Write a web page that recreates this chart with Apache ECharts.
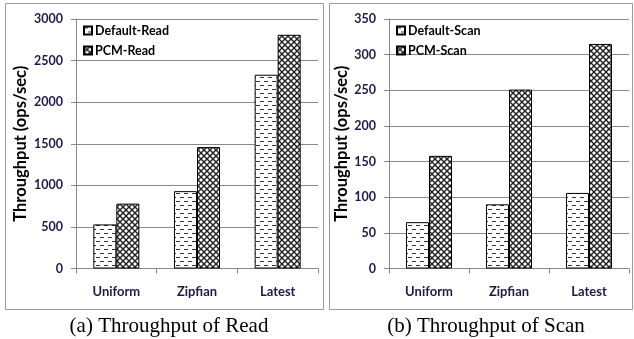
<!DOCTYPE html>
<html><head><meta charset="utf-8">
<script src="https://cdn.jsdelivr.net/npm/echarts@6/dist/echarts.min.js"></script>
<style>html,body{margin:0;padding:0;background:#fff}#c{width:634px;height:339px}</style>
</head><body><div id="c"></div>
<script>
const categories = ['Uniform', 'Zipfian', 'Latest'];
const defaultRead = [530, 930, 2330];
const pcmRead = [780, 1460, 2810];
const defaultScan = [65, 90, 106];
const pcmScan = [158, 251, 315];
const readTicks = {min: 0, max: 3000, interval: 500};
const scanTicks = {min: 0, max: 350, interval: 50};
const captions = ['(a) Throughput of Read', '(b) Throughput of Scan'];
const yTitle = 'Throughput (ops/sec)';

function dashPattern() {
  const c = document.createElement('canvas'); c.width = 8; c.height = 8;
  const g = c.getContext('2d');
  g.fillStyle = '#fff'; g.fillRect(0, 0, 8, 8);
  g.fillStyle = '#333';
  g.fillRect(0, 1, 4, 1);
  g.fillRect(4, 5, 4, 1);
  return c;
}
function crossPattern() {
  const s = 6;
  const c = document.createElement('canvas'); c.width = s; c.height = s;
  const g = c.getContext('2d');
  g.fillStyle = '#fff'; g.fillRect(0, 0, s, s);
  g.strokeStyle = '#222'; g.lineWidth = 1.4;
  for (let k = -1; k <= 1; k++) {
    g.beginPath(); g.moveTo(k * s, 0); g.lineTo(k * s + s, s); g.stroke();
    g.beginPath(); g.moveTo(k * s + s, 0); g.lineTo(k * s, s); g.stroke();
  }
  return c;
}
const dashFill = {image: dashPattern(), repeat: 'repeat'};
const crossFill = {image: crossPattern(), repeat: 'repeat'};

const FONT = 'Lato';
const LABEL_COLOR = '#1c1c4a';

function xAxis(gi) {
  return {
    type: 'category', gridIndex: gi, data: categories,
    axisLine: {lineStyle: {color: '#888', width: 1}},
    axisTick: {show: true, length: 5, lineStyle: {color: '#888'}},
    axisLabel: {margin: 17, fontFamily: FONT, fontWeight: 'bold', fontSize: 13, color: LABEL_COLOR}
  };
}
function yAxis(gi, t) {
  return {
    type: 'value', gridIndex: gi, min: t.min, max: t.max, interval: t.interval,
    name: yTitle, nameLocation: 'middle', nameGap: gi === 0 ? 47 : 37, nameRotate: 90,
    nameTextStyle: {fontFamily: FONT, fontWeight: 'bold', fontSize: 16.5, color: '#000'},
    axisLine: {show: true, lineStyle: {color: '#888', width: 1}},
    axisTick: {show: true, length: 5, lineStyle: {color: '#888'}},
    splitLine: {lineStyle: {color: '#8a8a8a', width: 1}},
    axisLabel: {margin: 13, fontFamily: FONT, fontWeight: 'bold', fontSize: 12.5, color: LABEL_COLOR,
                formatter: function (v) { return String(v); }}
  };
}
function bar(name, data, gi, fill) {
  return {
    name: name, type: 'bar', xAxisIndex: gi, yAxisIndex: gi, data: data,
    barWidth: 23, barGap: '0%',
    itemStyle: {color: fill, borderColor: '#000', borderWidth: 1}
  };
}
function legend(x, names) {
  return {
    orient: 'vertical', left: x, top: 19, itemWidth: 8, itemHeight: 8, itemGap: 7,
    icon: 'rect', data: names,
    textStyle: {fontFamily: FONT, fontWeight: 'bold', fontSize: 12.5, color: '#000', padding: [0, 0, 0, -2]}
  };
}

const chart = echarts.init(document.getElementById('c'), null, {renderer: 'canvas'});
chart.setOption({
  animation: false,
  backgroundColor: '#fff',
  title: [
    {text: captions[0], left: 164, top: 311, textAlign: 'center',
     textStyle: {fontFamily: 'Liberation Serif', fontWeight: 'normal', fontSize: 21, color: '#000'}},
    {text: captions[1], left: 481, top: 311, textAlign: 'center',
     textStyle: {fontFamily: 'Liberation Serif', fontWeight: 'normal', fontSize: 21, color: '#000'}}
  ],
  graphic: [
    {type: 'rect', shape: {x: 5.5, y: 3.5, width: 318, height: 306}, style: {fill: 'none', stroke: '#9a9a9a', lineWidth: 1}, silent: true},
    {type: 'rect', shape: {x: 329.5, y: 3.5, width: 303, height: 306}, style: {fill: 'none', stroke: '#9a9a9a', lineWidth: 1}, silent: true}
  ],
  grid: [
    {left: 76, right: 316, top: 19, bottom: 70.5},
    {left: 389, right: 5, top: 19, bottom: 70.5}
  ],
  legend: [legend(78, ['Default-Read', 'PCM-Read']), legend(391, ['Default-Scan', 'PCM-Scan'])],
  xAxis: [xAxis(0), xAxis(1)],
  yAxis: [yAxis(0, readTicks), yAxis(1, scanTicks)],
  series: [
    bar('Default-Read', defaultRead, 0, dashFill),
    bar('PCM-Read', pcmRead, 0, crossFill),
    bar('Default-Scan', defaultScan, 1, dashFill),
    bar('PCM-Scan', pcmScan, 1, crossFill)
  ]
});
</script></body></html>
